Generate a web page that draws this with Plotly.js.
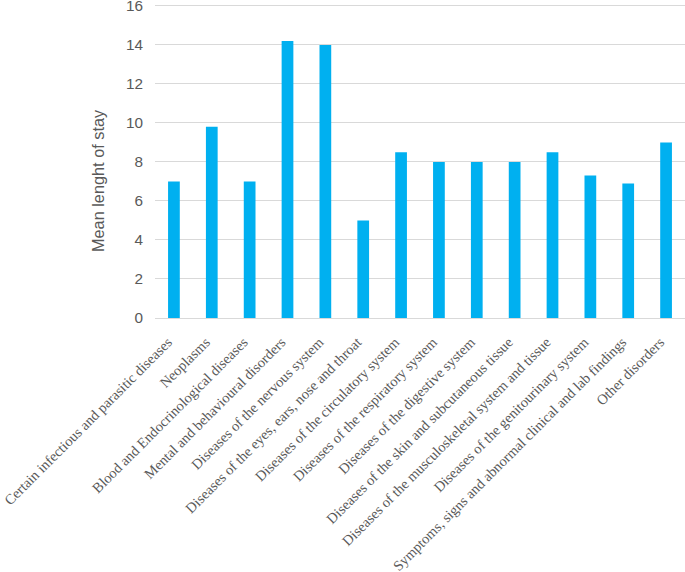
<!DOCTYPE html>
<html>
<head>
<meta charset="utf-8">
<script src="https://cdn.plot.ly/plotly-3.0.1.min.js"></script>
<style>html,body{margin:0;padding:0;background:#fff;}#chart{width:685px;height:572px;}</style>
</head>
<body>
<div id="chart"></div>
<script>
var categories = [
  "Certain infectious and parasitic diseases",
  "Neoplasms",
  "Blood and Endocrinological diseases",
  "Mental and behavioural disorders",
  "Diseases of the nervous system",
  "Diseases of the eyes, ears, nose and throat",
  "Diseases of the circulatory system",
  "Diseases of the respiratory system",
  "Diseases of the digestive system",
  "Diseases of the skin and subcutaneous tissue",
  "Diseases of the musculoskeletal system and tissue",
  "Diseases of the genitourinary system",
  "Symptoms, signs and abnormal clinical and lab findings",
  "Other disorders"
];
var meanStay = [7, 9.8, 7, 14.2, 14, 5, 8.5, 8, 8, 8, 8.5, 7.3, 6.9, 9];
var yTicks = [0, 2, 4, 6, 8, 10, 12, 14, 16];
var yTitle = "Mean lenght of stay";

var trace = {
  type: "bar",
  x: categories,
  y: meanStay,
  marker: {color: "#00B0F0"},
  hoverinfo: "x+y"
};

var layout = {
  width: 685,
  height: 572,
  margin: {l: 155, r: 0, t: 3, b: 254, pad: 0},
  paper_bgcolor: "#ffffff",
  plot_bgcolor: "#ffffff",
  bargap: 0.69,
  showlegend: false,
  xaxis: {
    type: "category",
    tickangle: -45,
    tickfont: {family: "Liberation Serif, Times New Roman, serif", size: 14.4, color: "#595959"},
    showgrid: false,
    showline: false,
    ticks: "",
    ticklabelstandoff: 12,
    ticklabelshift: -6,
    automargin: false
  },
  yaxis: {
    range: [0, 16.15],
    tickvals: yTicks,
    ticktext: yTicks.map(String),
    tickfont: {family: "Liberation Sans, Arial, sans-serif", size: 15.3, color: "#595959"},
    showgrid: true,
    gridcolor: "#d9d9d9",
    gridwidth: 1,
    zeroline: true,
    zerolinecolor: "#d9d9d9",
    zerolinewidth: 1,
    showline: false,
    ticks: "",
    ticklabelstandoff: 11,
    ticklabeloverflow: "allow",
    automargin: false
  },
  annotations: [{
    text: yTitle,
    xref: "paper", yref: "paper",
    x: -0.1075, y: 0.435,
    xanchor: "center", yanchor: "middle",
    textangle: -90,
    showarrow: false,
    font: {family: "Liberation Sans, Arial, sans-serif", size: 16.3, color: "#595959"}
  }]
};

Plotly.newPlot("chart", [trace], layout, {displayModeBar: false, staticPlot: true});
</script>
</body>
</html>
